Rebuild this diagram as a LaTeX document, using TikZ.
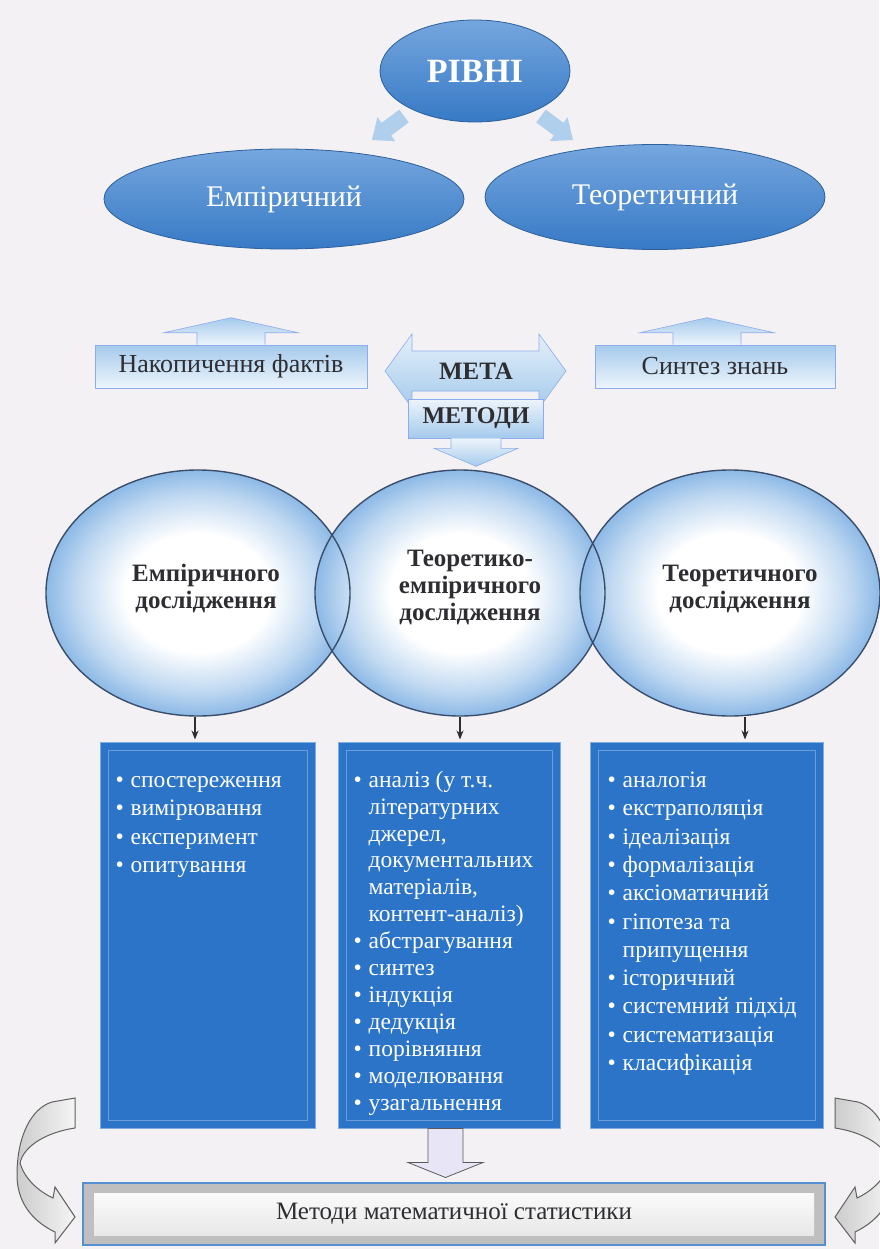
\documentclass[tikz,border=0pt]{standalone}
\usepackage{fontspec}
\setmainfont{Liberation Serif}
\usetikzlibrary{shapes.geometric,arrows.meta}

\definecolor{paper}{RGB}{243,241,243}
\definecolor{lvlblue}{RGB}{58,128,208}
\definecolor{boxblue}{RGB}{44,116,200}
\definecolor{lightarr}{RGB}{165,202,236}
\definecolor{circedge}{RGB}{58,78,108}
\definecolor{circfill}{RGB}{140,185,230}
\definecolor{inktext}{RGB}{45,45,50}
\definecolor{lavender}{RGB}{232,230,246}

\pgfdeclareradialshading{bubble}{\pgfpoint{0bp}{0bp}}{color(0bp)=(white); color(12bp)=(white); color(20bp)=(circfill!55!white); color(25bp)=(circfill); color(50bp)=(circfill)}

\newcommand{\bul}{\strut\makebox[15pt][l]{\textbullet}}
\newcommand{\cnt}{\strut\hspace*{15pt}}

\tikzset{
  levelnode/.style={ellipse, inner sep=0pt, draw=lvlblue!75!black, line width=0.8pt,
    top color=lvlblue!70!white, bottom color=lvlblue!95!black, text=white},
  smallarrow/.style={fill=lightarr, fill opacity=0.85},
  factbox/.style={rectangle, inner sep=0pt, draw=lightarr!85!blue, line width=0.6pt,
    top color=lightarr, bottom color=lightarr!20!white, text=inktext,
    font=\fontsize{26}{30}\selectfont},
  downbox/.style={factbox, top color=lightarr!20!white, bottom color=lightarr},
  goalarrow/.style={draw=lightarr!85!blue, line width=0.6pt,
    top color=lightarr!30!white, bottom color=lightarr},
  stagefill/.style={ellipse, inner sep=0pt, shading=bubble},
  stageline/.style={draw=circedge, line width=1.4pt},
  stagetext/.style={align=center, text=inktext, font=\bfseries\fontsize{25}{27}\selectfont},
  stepline/.style={-{Stealth[length=9pt,width=7pt]}, line width=1.1pt, draw=inktext,
    shorten <=1pt, shorten >=2pt},
  listbox/.style={rectangle, inner sep=0pt, fill=boxblue, draw=boxblue!60!white, line width=1pt,
    path picture={\draw[boxblue!70!white, line width=0.8pt]
      ([shift={(8,8)}]path picture bounding box.north west) rectangle
      ([shift={(-8,-8)}]path picture bounding box.south east);}},
  listtext/.style={anchor=north west, align=left, inner sep=0pt, text=white,
    font=\fontsize{23.5}{28.3}\selectfont},
  downarrow/.style={draw=gray!70!black, line width=0.8pt, fill=lavender},
  statbox/.style={rectangle, inner sep=0pt, draw=boxblue!80!white, line width=1.2pt, fill=gray!50,
    path picture={\shade[top color=white, bottom color=gray!22]
      ([shift={(11,10)}]path picture bounding box.north west) rectangle
      ([shift={(-11,-10)}]path picture bounding box.south east);},
    text=inktext, font=\fontsize{25}{29}\selectfont},
  curvearrow/.style={draw=gray!75!black, line width=1pt, left color=gray!40, right color=gray!8}
}

\begin{document}
\begin{tikzpicture}[x=1pt,y=-1pt]
% Drawing page
\fill[paper] (0,0) rectangle (879,1249);
\useasboundingbox (0,0) rectangle (879,1249);
% Drawing levels
\node[levelnode, minimum width=190pt, minimum height=102pt, font=\bfseries\fontsize{34}{38}\selectfont] (levels) at (475,71) {РІВНІ};
\node[levelnode, minimum width=360pt, minimum height=100pt, font=\fontsize{30}{34}\selectfont] (emp) at (284,199) {Емпіричний};
\node[levelnode, minimum width=340pt, minimum height=105pt, font=\fontsize{30}{34}\selectfont] (theo) at (655,197) {Теоретичний};
\begin{scope}[shift={(388,128)}, rotate=216.87]
\fill[smallarrow] (-20,-8) -- (2,-8) -- (2,-15) -- (20,0) -- (2,15) -- (2,8) -- (-20,8) -- cycle;
\end{scope}
\begin{scope}[shift={(557,128)}, rotate=-36.87]
\fill[smallarrow] (-20,-8) -- (2,-8) -- (2,-15) -- (20,0) -- (2,15) -- (2,8) -- (-20,8) -- cycle;
\end{scope}
% Done with levels; drawing goal row
\node[factbox, minimum width=272pt, minimum height=43pt] (facts) at (231,366.5) {Накопичення фактів};
\draw[factbox] ([xshift=-34pt]facts.north) -- ++(0,-12) -- ++(-33,0) -- ++(67,-15) -- ++(67,15) -- ++(-33,0) -- ++(0,12);
\node[factbox, minimum width=240pt, minimum height=43pt] (synth) at (715,366.5) {Синтез знань};
\draw[factbox] ([xshift=-42pt]synth.north) -- ++(0,-12) -- ++(-33,0) -- ++(67,-15) -- ++(67,15) -- ++(-33,0) -- ++(0,12);
\path[goalarrow] (385,371) -- (412,334) -- (412,351) -- (539,351) -- (539,334) -- (566,371) -- (539,408) -- (539,391) -- (412,391) -- (412,408) -- cycle;
\node[text=inktext, font=\bfseries\fontsize{25}{29}\selectfont] (goal) at (476,371) {МЕТА};
\node[downbox, minimum width=135pt, minimum height=39pt, font=\bfseries\fontsize{24}{28}\selectfont] (methods) at (476,418.5) {МЕТОДИ};
\draw[downbox] ([xshift=-25pt]methods.south) -- ++(0,10) -- ++(-17,0) -- ++(42,18) -- ++(42,-18) -- ++(-17,0) -- ++(0,-10);
% Done with goal row; drawing research kinds
\node[stagefill, minimum width=304pt, minimum height=246pt] (stageE) at (198,593) {};
\node[stagefill, minimum width=290pt, minimum height=246pt] (stageM) at (460,593) {};
\node[stagefill, minimum width=300pt, minimum height=246pt] (stageT) at (730,593) {};
\draw[stageline] (stageE.center) ellipse [x radius=152, y radius=123];
\draw[stageline] (stageM.center) ellipse [x radius=145, y radius=123];
\draw[stageline] (stageT.center) ellipse [x radius=150, y radius=123];
\node[stagetext] (stageEtxt) at (206,588) {Емпіричного\\дослідження};
\node[stagetext] (stageMtxt) at (470,587) {Теоретико-\\емпіричного\\дослідження};
\node[stagetext] (stageTtxt) at (740,589) {Теоретичного\\дослідження};
% Done with research kinds; drawing method lists
\node[listbox, minimum width=215pt, minimum height=386pt] (listE) at (207.5,935) {};
\node[listbox, minimum width=222pt, minimum height=386pt] (listM) at (449,935) {};
\node[listbox, minimum width=233pt, minimum height=386pt] (listT) at (706.5,935) {};
\draw[stepline] ([xshift=-3pt]stageE.south) -- ([xshift=-3pt]stageE.south |- listE.north);
\draw[stepline] (stageM.south) -- (stageM.south |- listM.north);
\draw[stepline] ([xshift=15pt]stageT.south) -- ([xshift=15pt]stageT.south |- listT.north);
\node[listtext] (listEtxt) at ([shift={(16,26)}]listE.north west) {\bul спостереження\\\bul вимірювання\\\bul експеримент\\\bul опитування};
\node[listtext, font=\fontsize{23.5}{26.9}\selectfont] (listMtxt) at ([shift={(16,26.7)}]listM.north west) {\bul аналіз (у т.ч.\\\cnt літературних\\\cnt джерел,\\\cnt документальних\\\cnt матеріалів,\\\cnt контент-аналіз)\\\bul абстрагування\\\bul синтез\\\bul індукція\\\bul дедукція\\\bul порівняння\\\bul моделювання\\\bul узагальнення};
\node[listtext] (listTtxt) at ([shift={(18,26)}]listT.north west) {\bul аналогія\\\bul екстраполяція\\\bul ідеалізація\\\bul формалізація\\\bul аксіоматичний\\\bul гіпотеза та\\\cnt припущення\\\bul історичний\\\bul системний підхід\\\bul систематизація\\\bul класифікація};
% Done with method lists; drawing statistics
\draw[downarrow] ([xshift=-21pt]listM.south) -- ++(35,0) -- ++(0,34) -- ++(20,0) -- ++(-37.5,15) -- ++(-37.5,-15) -- ++(20,0) -- cycle;
\node[statbox, minimum width=742pt, minimum height=62pt] (stats) at (454,1214) {Методи математичної статистики};
\path[curvearrow] (75,1098) -- (75,1128) .. controls (48,1132) and (24,1145) .. (20,1163) .. controls (25,1180) and (40,1192) .. (53,1198) -- (55,1187) -- (75,1217) -- (55,1243) -- (55,1232) .. controls (30,1220) and (17,1200) .. (17,1175) .. controls (17,1135) and (32,1108) .. (52,1102) -- cycle;
\begin{scope}[xshift=910pt, xscale=-1]
\path[curvearrow] (75,1098) -- (75,1128) .. controls (48,1132) and (24,1145) .. (20,1163) .. controls (25,1180) and (40,1192) .. (53,1198) -- (55,1187) -- (75,1217) -- (55,1243) -- (55,1232) .. controls (30,1220) and (17,1200) .. (17,1175) .. controls (17,1135) and (32,1108) .. (52,1102) -- cycle;
\end{scope}
% Done with statistics
\end{tikzpicture}
\end{document}
